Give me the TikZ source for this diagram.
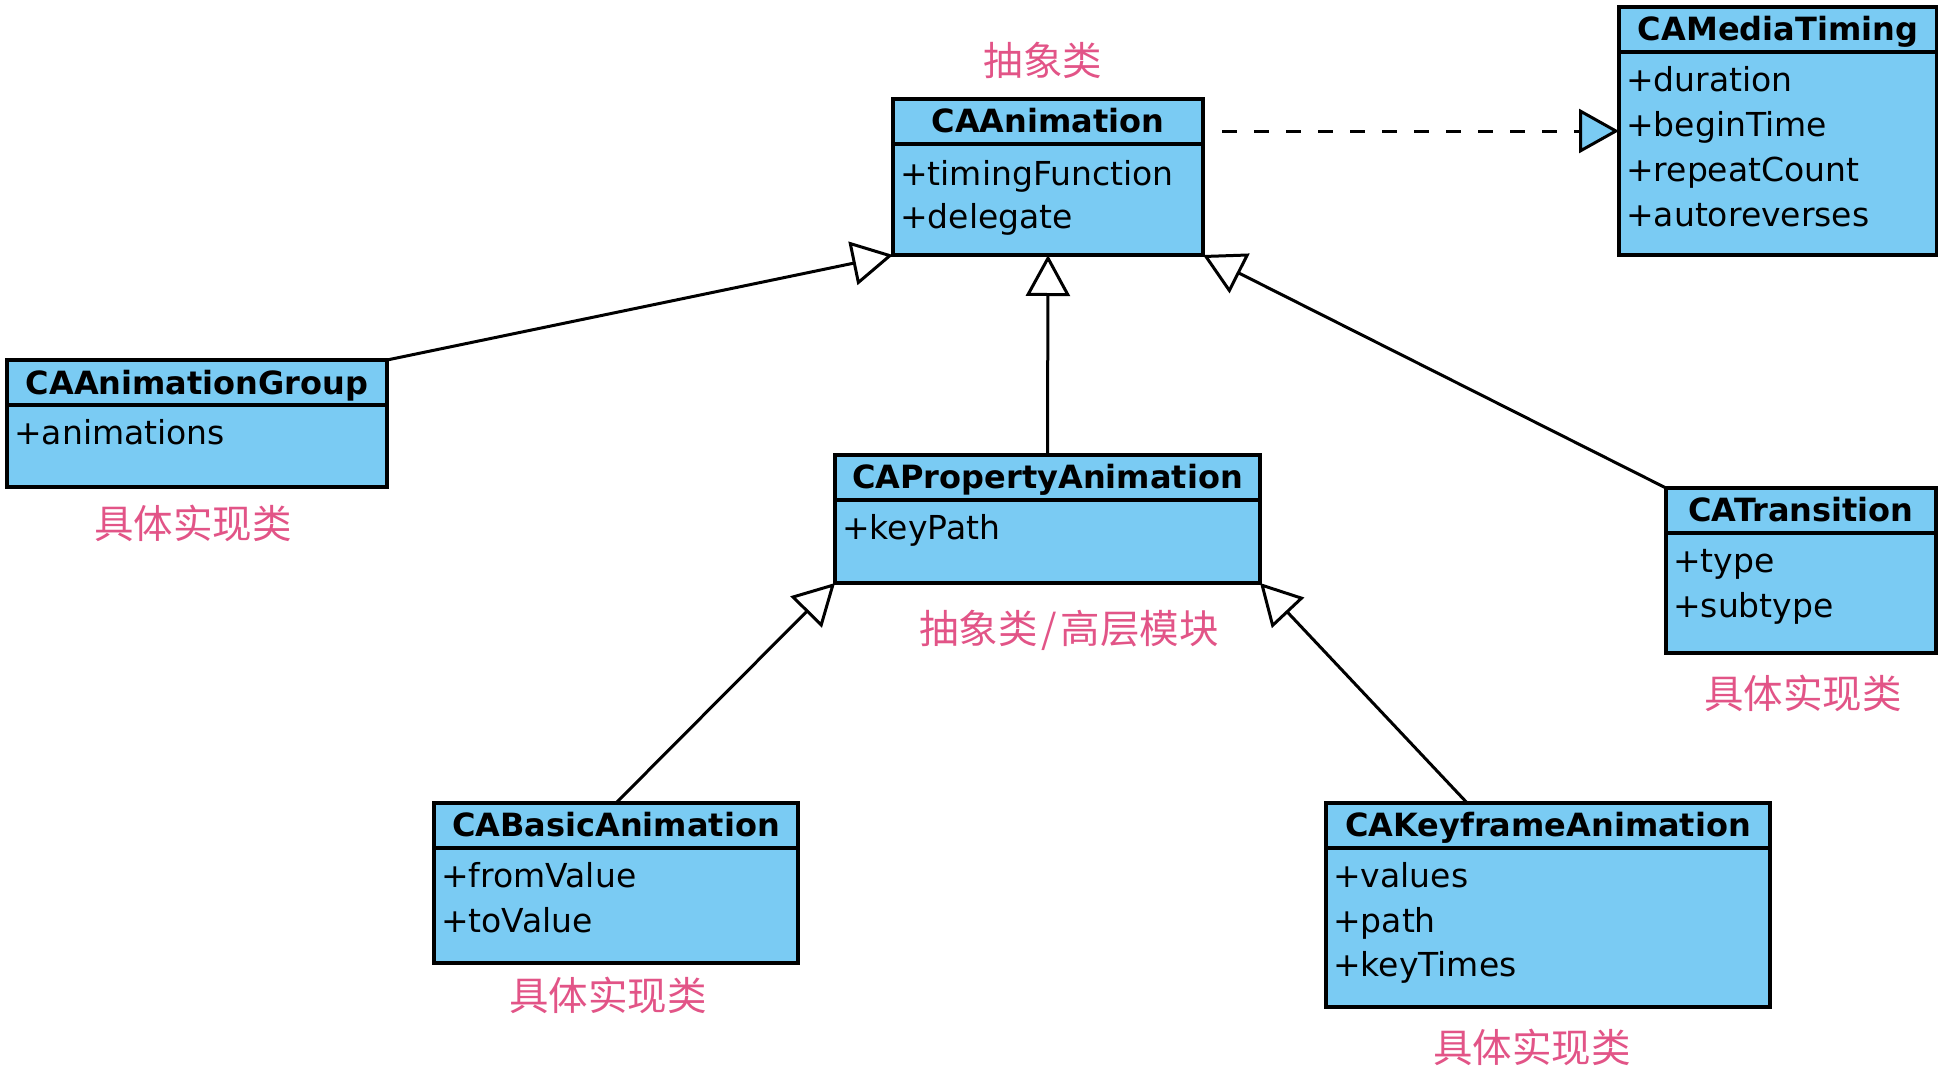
\documentclass[tikz,border=0pt]{standalone}
\usepackage{fontspec}
\usetikzlibrary{arrows.meta,calc}
\newfontfamily\umlfont{DejaVu Sans}
\newfontfamily\cjk{Noto Sans CJK SC}
\definecolor{boxblue}{RGB}{122,203,243}
\definecolor{lblpink}{RGB}{226,84,135}
\tikzset{
  cls/.style={draw=black, line width=3.2pt, fill=boxblue, rectangle, inner sep=0pt, outer sep=0pt, anchor=north west},
  ttl/.style={font=\umlfont\bfseries\fontsize{32}{38}\selectfont, anchor=base, inner sep=0pt},
  attr/.style={font=\umlfont\fontsize{33}{40}\selectfont, anchor=base west, inner sep=0pt},
  lbl/.style={font=\cjk\fontsize{39.5}{44}\selectfont, text=lblpink, inner sep=0pt},
  sepline/.style={line width=3.2pt},
  inh/.style={line width=3pt, -{Triangle[open, length=41pt, width=44pt]}},
  realize/.style={line width=3pt, dash pattern=on 15pt off 17pt, -{Triangle[length=40pt, width=44pt, fill=boxblue]}}
}
\begin{document}
\begin{tikzpicture}[x=1pt, y=-1pt]
\useasboundingbox[fill=white] (0,0) rectangle (1938,1076);

% CAAnimation
\node[cls, minimum width=310pt, minimum height=156pt] (anim) at (893,99) {};
\draw[sepline] ($(anim.north west)+(0,45)$) -- ($(anim.north east)+(0,45)$);
\node[ttl] (animT) at ($(anim.north)+(0,33)$) {CAAnimation};
\node[attr] (animA1) at ($(anim.north west)+(7,86)$) {+timingFunction};
\node[attr] (animA2) at ($(anim.north west)+(7,129)$) {+delegate};

% CAMediaTiming
\node[cls, minimum width=318pt, minimum height=248pt] (mt) at (1619,7) {};
\draw[sepline] ($(mt.north west)+(0,45)$) -- ($(mt.north east)+(0,45)$);
\node[ttl] (mtT) at ($(mt.north)+(0,33)$) {CAMediaTiming};
\node[attr] (mtA1) at ($(mt.north west)+(7,84)$) {+duration};
\node[attr] (mtA2) at ($(mt.north west)+(7,129)$) {+beginTime};
\node[attr] (mtA3) at ($(mt.north west)+(7,174)$) {+repeatCount};
\node[attr] (mtA4) at ($(mt.north west)+(7,219)$) {+autoreverses};

% CAAnimationGroup
\node[cls, minimum width=380pt, minimum height=127pt] (grp) at (7,360) {};
\draw[sepline] ($(grp.north west)+(0,45)$) -- ($(grp.north east)+(0,45)$);
\node[ttl] (grpT) at ($(grp.north)+(0,34)$) {CAAnimationGroup};
\node[attr] (grpA1) at ($(grp.north west)+(7,84)$) {+animations};

% CAPropertyAnimation
\node[cls, minimum width=425pt, minimum height=128pt] (prop) at (835,455) {};
\draw[sepline] ($(prop.north west)+(0,45)$) -- ($(prop.north east)+(0,45)$);
\node[ttl] (propT) at ($(prop.north)+(0,33)$) {CAPropertyAnimation};
\node[attr] (propA1) at ($(prop.north west)+(7,84)$) {+keyPath};

% CATransition
\node[cls, minimum width=270pt, minimum height=165pt] (trans) at (1666,488) {};
\draw[sepline] ($(trans.north west)+(0,45)$) -- ($(trans.north east)+(0,45)$);
\node[ttl] (transT) at ($(trans.north)+(0,33)$) {CATransition};
\node[attr] (transA1) at ($(trans.north west)+(7,84)$) {+type};
\node[attr] (transA2) at ($(trans.north west)+(7,129)$) {+subtype};

% CABasicAnimation
\node[cls, minimum width=364pt, minimum height=160pt] (basic) at (434,803) {};
\draw[sepline] ($(basic.north west)+(0,45)$) -- ($(basic.north east)+(0,45)$);
\node[ttl] (basicT) at ($(basic.north)+(0,33)$) {CABasicAnimation};
\node[attr] (basicA1) at ($(basic.north west)+(7,84)$) {+fromValue};
\node[attr] (basicA2) at ($(basic.north west)+(7,129)$) {+toValue};

% CAKeyframeAnimation
\node[cls, minimum width=444pt, minimum height=204pt] (kf) at (1326,803) {};
\draw[sepline] ($(kf.north west)+(0,45)$) -- ($(kf.north east)+(0,45)$);
\node[ttl] (kfT) at ($(kf.north)+(0,33)$) {CAKeyframeAnimation};
\node[attr] (kfA1) at ($(kf.north west)+(7,84)$) {+values};
\node[attr] (kfA2) at ($(kf.north west)+(7,129)$) {+path};
\node[attr] (kfA3) at ($(kf.north west)+(7,173)$) {+keyTimes};

% Labels
\node[lbl] (lAnim) at (1043,60) {抽象类};
\node[lbl] (lGrp) at (193,523) {具体实现类};
\node[lbl] (lProp) at (1069,630) {抽象类\hspace{4pt}/\hspace{4pt}高层模块};
\node[lbl] (lTrans) at (1803,693) {具体实现类};
\node[lbl] (lBasic) at (608,995) {具体实现类};
\node[lbl] (lKf) at (1532,1047) {具体实现类};

% Connectors
\coordinate (kfTop) at ($(kf.north west)!0.318!(kf.north east)$);
\coordinate (dashS) at ($(anim.north east)+(19,32)$);
\draw[inh] (grp.north east) -- (anim.south west);
\draw[inh] (prop.north) -- (anim.south);
\draw[inh] (trans.north west) -- (anim.south east);
\draw[inh] (basic.north) -- (prop.south west);
\draw[inh] (kfTop) -- (prop.south east);
\draw[realize] (dashS) -- (dashS -| mt.west);
\end{tikzpicture}
\end{document}
